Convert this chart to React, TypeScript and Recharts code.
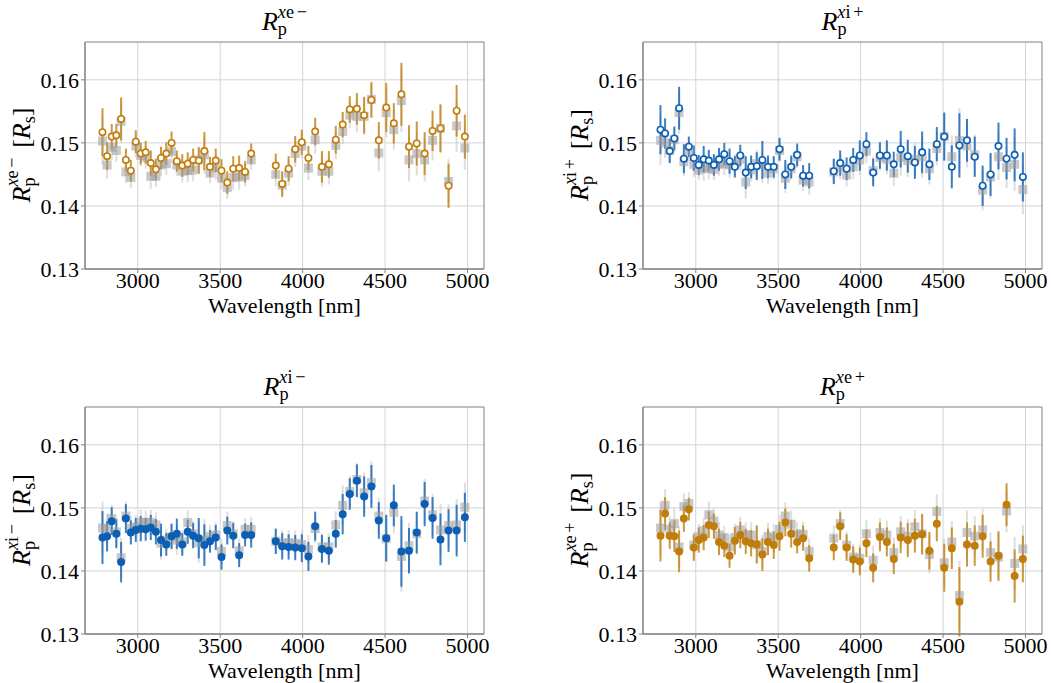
import React from 'react';
import {
  ComposedChart,
  Scatter,
  ErrorBar,
  XAxis,
  YAxis,
  CartesianGrid,
  ReferenceArea,
} from 'recharts';

const FONT = 'Liberation Serif';
const ORANGE = '#c17d0a';
const BLUE = '#0b5fb5';

// wavelength bins [nm], shared by all four panels
const wavelengths = [
  2786, 2814, 2842, 2870, 2899, 2928, 2958, 2988, 3018, 3048, 3079, 3110, 3141, 3173, 3205,
  3237, 3270, 3303, 3336, 3370, 3404, 3438, 3473, 3508, 3543, 3579, 3615, 3651, 3688,
  3837, 3876, 3915, 3955, 3995, 4035, 4076, 4117, 4159, 4201, 4243, 4286, 4329, 4373, 4417,
  4462, 4507, 4553, 4599, 4645, 4692, 4740, 4788, 4836, 4885, 4934, 4984,
];

const xTicks = [3000, 3500, 4000, 4500, 5000];
const yTicks = [0.13, 0.14, 0.15, 0.16];

// R_p^{xe-}
const xeMinusVals = [
  0.1517, 0.1479, 0.151, 0.1512, 0.1538, 0.1473, 0.1456, 0.1502, 0.1483, 0.1485, 0.1468, 0.1458, 0.1476, 0.1483, 0.15,
  0.1471, 0.1464, 0.1467, 0.1473, 0.1472, 0.1487, 0.1462, 0.1472, 0.1456, 0.1437, 0.1459, 0.146, 0.1454, 0.1483,
  0.1464, 0.1435, 0.1459, 0.149, 0.1501, 0.1476, 0.1518, 0.1462, 0.1466, 0.1505, 0.1529, 0.1553, 0.1554, 0.1544, 0.1568,
  0.1504, 0.1556, 0.1531, 0.1577, 0.1494, 0.1499, 0.1483, 0.1519, 0.1523, 0.1432, 0.1551, 0.151,
];
const xeMinusErrs = [
  0.0038, 0.0022, 0.002, 0.0018, 0.0034, 0.0018, 0.0017, 0.0018, 0.0017, 0.0018, 0.002, 0.0017, 0.0018, 0.0018, 0.0018,
  0.0017, 0.0018, 0.0018, 0.0018, 0.0021, 0.003, 0.0016, 0.0019, 0.0018, 0.0018, 0.002, 0.002, 0.0017, 0.0016,
  0.0019, 0.002, 0.002, 0.0021, 0.002, 0.0019, 0.0022, 0.0025, 0.0021, 0.0022, 0.002, 0.0021, 0.0025, 0.0029, 0.0028,
  0.0029, 0.0039, 0.0032, 0.005, 0.0034, 0.0035, 0.0034, 0.0032, 0.0038, 0.0035, 0.0041, 0.0035,
];
const xeMinusModel = [
  0.1503, 0.1465, 0.1493, 0.1488, 0.1534, 0.1454, 0.1445, 0.1495, 0.148, 0.1477, 0.1447, 0.1447, 0.1465, 0.1467, 0.1486,
  0.1465, 0.1455, 0.1456, 0.1457, 0.1473, 0.1481, 0.1452, 0.1461, 0.1444, 0.1429, 0.1445, 0.1446, 0.1448, 0.1473,
  0.145, 0.1433, 0.1452, 0.1483, 0.1495, 0.146, 0.1505, 0.1455, 0.1455, 0.1496, 0.1518, 0.1544, 0.1542, 0.1542, 0.1569,
  0.1484, 0.1548, 0.1521, 0.1567, 0.1473, 0.1483, 0.1473, 0.1504, 0.1523, 0.1439, 0.1527, 0.1492,
];

// R_p^{xi+}
const xiPlusVals = [
  0.1521, 0.1515, 0.1487, 0.1507, 0.1555, 0.1475, 0.1494, 0.1476, 0.1465, 0.1474, 0.1472, 0.1465, 0.1474, 0.1482, 0.1471,
  0.1462, 0.148, 0.1453, 0.1462, 0.1463, 0.1473, 0.1462, 0.1462, 0.149, 0.145, 0.1462, 0.1481, 0.1448, 0.1448,
  0.1455, 0.1468, 0.1459, 0.1473, 0.148, 0.1498, 0.1453, 0.148, 0.148, 0.1466, 0.149, 0.1479, 0.1469, 0.1485, 0.1466,
  0.1498, 0.151, 0.1462, 0.1496, 0.1504, 0.1478, 0.1432, 0.145, 0.1495, 0.1475, 0.1481, 0.1446,
];
const xiPlusErrs = [
  0.0039, 0.0024, 0.0019, 0.0019, 0.0034, 0.0023, 0.0016, 0.002, 0.0016, 0.0021, 0.0017, 0.0017, 0.0018, 0.0018, 0.002,
  0.0017, 0.0017, 0.0026, 0.0018, 0.0022, 0.003, 0.0018, 0.0017, 0.0018, 0.0023, 0.0018, 0.0018, 0.0017, 0.002,
  0.002, 0.002, 0.0018, 0.0019, 0.0024, 0.0019, 0.0022, 0.0021, 0.0024, 0.002, 0.0029, 0.0026, 0.0026, 0.0033, 0.0025,
  0.0027, 0.0038, 0.0034, 0.0051, 0.0034, 0.0032, 0.0032, 0.0034, 0.0037, 0.0033, 0.0042, 0.0039,
];
const xiPlusModel = [
  0.1504, 0.15, 0.1488, 0.1505, 0.1548, 0.147, 0.1488, 0.1466, 0.1457, 0.1461, 0.1459, 0.1458, 0.1466, 0.1467, 0.1465,
  0.1465, 0.1474, 0.1438, 0.1457, 0.1467, 0.1466, 0.1452, 0.1459, 0.1488, 0.1444, 0.1459, 0.1478, 0.1441, 0.1438,
  0.1454, 0.1462, 0.1449, 0.1462, 0.1473, 0.1487, 0.1456, 0.1477, 0.1474, 0.1452, 0.1477, 0.1472, 0.1474, 0.1478, 0.1459,
  0.1491, 0.151, 0.1478, 0.1504, 0.1495, 0.1481, 0.1425, 0.1446, 0.1478, 0.1461, 0.1466, 0.1426,
];

// R_p^{xi-}
const xiMinusVals = [
  0.1453, 0.1455, 0.1479, 0.1459, 0.1414, 0.1483, 0.1461, 0.1465, 0.1467, 0.1466, 0.1469, 0.1462, 0.1449, 0.1442, 0.1455,
  0.1459, 0.1442, 0.1462, 0.1456, 0.1452, 0.1441, 0.1447, 0.1453, 0.1422, 0.1464, 0.1456, 0.1425, 0.1457, 0.1457,
  0.1447, 0.1439, 0.1438, 0.1437, 0.1436, 0.1423, 0.1471, 0.1435, 0.1432, 0.1459, 0.149, 0.1522, 0.1543, 0.1518, 0.1534,
  0.148, 0.1452, 0.1504, 0.1431, 0.1432, 0.1461, 0.1506, 0.1484, 0.145, 0.1464, 0.1464, 0.1485,
];
const xiMinusErrs = [
  0.0042, 0.0024, 0.0022, 0.0023, 0.0032, 0.0023, 0.0019, 0.0019, 0.002, 0.0018, 0.002, 0.002, 0.0026, 0.0018, 0.002,
  0.0024, 0.0018, 0.0019, 0.002, 0.0032, 0.0033, 0.0018, 0.002, 0.002, 0.0022, 0.002, 0.0019, 0.0018, 0.002,
  0.002, 0.0021, 0.002, 0.002, 0.0022, 0.0023, 0.0023, 0.0022, 0.0022, 0.0022, 0.0032, 0.0025, 0.0026, 0.0032, 0.0034,
  0.0029, 0.0037, 0.0033, 0.0056, 0.0036, 0.0033, 0.0035, 0.0033, 0.0041, 0.0034, 0.0041, 0.0039,
];
const xiMinusModel = [
  0.1468, 0.1467, 0.1483, 0.1462, 0.1421, 0.1487, 0.1468, 0.147, 0.1477, 0.1477, 0.1477, 0.1473, 0.1444, 0.1449, 0.1454,
  0.1449, 0.1446, 0.1477, 0.1459, 0.1445, 0.1449, 0.1455, 0.1457, 0.1431, 0.1472, 0.1459, 0.1432, 0.1466, 0.1466,
  0.1447, 0.1444, 0.1445, 0.1444, 0.1442, 0.1434, 0.1467, 0.1438, 0.1438, 0.1473, 0.1504, 0.1526, 0.1545, 0.1524, 0.154,
  0.1487, 0.1451, 0.1493, 0.1423, 0.144, 0.1459, 0.1511, 0.1489, 0.1465, 0.1472, 0.1473, 0.1501,
];

// R_p^{xe+}
const xePlusVals = [
  0.1456, 0.1491, 0.1456, 0.1455, 0.1431, 0.1483, 0.1498, 0.1437, 0.1449, 0.1453, 0.1473, 0.1471, 0.1446, 0.144, 0.1424,
  0.1448, 0.1457, 0.1447, 0.1444, 0.1442, 0.1426, 0.1446, 0.1441, 0.1455, 0.1477, 0.1459, 0.1446, 0.1452, 0.142,
  0.1437, 0.1471, 0.1437, 0.1418, 0.1415, 0.1444, 0.1405, 0.1454, 0.1446, 0.1419, 0.1453, 0.1449, 0.1456, 0.1458, 0.1432,
  0.1475, 0.1405, 0.1436, 0.1351, 0.1442, 0.144, 0.1455, 0.1415, 0.1424, 0.1505, 0.1392, 0.1419,
];
const xePlusErrs = [
  0.0041, 0.0026, 0.0021, 0.0025, 0.0033, 0.0021, 0.0018, 0.0021, 0.002, 0.002, 0.0021, 0.002, 0.0021, 0.0018, 0.0019,
  0.0022, 0.0021, 0.002, 0.0021, 0.003, 0.0026, 0.0021, 0.0022, 0.0023, 0.0022, 0.0022, 0.0018, 0.002, 0.0021,
  0.002, 0.0022, 0.0021, 0.0021, 0.0022, 0.0022, 0.0023, 0.0023, 0.0023, 0.0024, 0.0025, 0.0027, 0.0027, 0.0032, 0.003,
  0.0028, 0.0038, 0.0033, 0.0055, 0.0035, 0.0032, 0.0034, 0.0032, 0.0039, 0.0034, 0.0042, 0.0037,
];
const xePlusModel = [
  0.1468, 0.1504, 0.1466, 0.1475, 0.1438, 0.1502, 0.1507, 0.1441, 0.1454, 0.1464, 0.1489, 0.1479, 0.1457, 0.1453, 0.1438,
  0.1453, 0.1465, 0.1457, 0.1457, 0.1442, 0.1431, 0.1455, 0.1452, 0.1466, 0.1487, 0.1474, 0.1459, 0.1458, 0.1431,
  0.1452, 0.1475, 0.1441, 0.1422, 0.142, 0.1459, 0.1417, 0.1461, 0.1457, 0.1429, 0.1462, 0.1455, 0.147, 0.1459, 0.1426,
  0.1494, 0.1413, 0.1446, 0.1361, 0.1461, 0.1455, 0.1465, 0.1429, 0.1422, 0.1495, 0.1412, 0.1435,
];

const buildRows = (vals: number[], errs: number[], model: number[]) =>
  wavelengths.map((wl, i) => ({ wl, val: vals[i], err: errs[i], model: model[i] }));

// R_p^{x..} rendered like matplotlib mathtext; optional " [R_s]" tail
const MathText = ({ sup, size, withUnit }: { sup: [string, string]; size: number; withUnit?: boolean }) => {
  const s = size * 0.7;
  const down = size * 0.2;
  const up = size * 0.46;
  return (
    <>
      <tspan fontStyle="italic">R</tspan>
      <tspan fontSize={s} dy={down}>p</tspan>
      <tspan fontSize={s} fontStyle="italic" dx={-s * 0.5} dy={-down - up}>x</tspan>
      <tspan fontSize={s}>{sup[0]}</tspan>
      <tspan fontSize={s} dx={s * 0.15}>{sup[1]}</tspan>
      {withUnit && (
        <>
          <tspan dy={up} dx={size * 0.12}>{'\u00a0['}</tspan>
          <tspan fontStyle="italic">R</tspan>
          <tspan fontSize={s} dy={down}>s</tspan>
          <tspan dy={-down}>]</tspan>
        </>
      )}
    </>
  );
};

const XTick = (props: any) => {
  const { x, y, payload } = props;
  return (
    <text x={x} y={y} dy={15} textAnchor="middle" fontFamily={FONT} fontSize={22} fill="#000">
      {payload.value}
    </text>
  );
};

const YTick = (props: any) => {
  const { x, y, payload } = props;
  return (
    <text x={x} y={y} dy={7.8} textAnchor="end" fontFamily={FONT} fontSize={22} fill="#000">
      {Number(payload.value).toFixed(2)}
    </text>
  );
};

const CircleShape = (color: string, open: boolean) => (props: any) => {
  const { cx, cy } = props;
  if (cx == null || cy == null) return null;
  return <circle cx={cx} cy={cy} r={3.2} fill={open ? '#fff' : color} stroke={color} strokeWidth={1.6} />;
};

const SquareShape = (props: any) => {
  const { cx, cy } = props;
  if (cx == null || cy == null) return null;
  return <rect x={cx - 4.5} y={cy - 4.5} width={9} height={9} fill="#9c9c9c" fillOpacity={0.55} />;
};

const CHART_W = 500;
const CHART_H = 318;

interface PanelProps {
  left: number;
  top: number;
  sup: [string, string];
  color: string;
  open: boolean;
  vals: number[];
  errs: number[];
  model: number[];
}

function Panel({ left, top, sup, color, open, vals, errs, model }: PanelProps) {
  const rows = buildRows(vals, errs, model);
  const plotCx = 85 + 399 / 2;
  return (
    <div style={{ position: 'absolute', left, top, width: CHART_W, height: CHART_H }}>
      <ComposedChart
        width={CHART_W}
        height={CHART_H}
        data={rows}
        margin={{ top: 42, right: 16, left: 25, bottom: 5 }}
      >
        <CartesianGrid stroke="#d4d4d4" strokeWidth={1} horizontalValues={yTicks} verticalValues={xTicks} />
        <XAxis
          dataKey="wl"
          type="number"
          domain={[2680, 5100]}
          ticks={xTicks}
          allowDataOverflow
          height={44}
          tickSize={4}
          tickMargin={0}
          stroke="#808080"
          tick={<XTick />}
        />
        <YAxis
          type="number"
          domain={[0.13, 0.166]}
          ticks={yTicks}
          allowDataOverflow
          width={60}
          tickSize={4}
          tickMargin={2}
          stroke="#808080"
          tick={<YTick />}
        />
        <ReferenceArea x1={2680} x2={5100} y1={0.13} y2={0.166} fill="none" stroke="#808080" strokeWidth={1} />
        <Scatter dataKey="model" shape={SquareShape} isAnimationActive={false}>
          <ErrorBar dataKey="err" direction="y" width={0} stroke="#c8c8c8" strokeOpacity={0.6} strokeWidth={2} />
        </Scatter>
        <Scatter dataKey="val" shape={CircleShape(color, open)} isAnimationActive={false}>
          <ErrorBar dataKey="err" direction="y" width={0} stroke={color} strokeOpacity={0.8} strokeWidth={2} />
        </Scatter>
      </ComposedChart>
      <svg
        width={CHART_W}
        height={CHART_H}
        style={{ position: 'absolute', left: 0, top: 0, pointerEvents: 'none' }}
      >
        <text x={plotCx} y={30} textAnchor="middle" fontFamily={FONT} fontSize={26} fill="#000">
          <MathText sup={sup} size={26} />
        </text>
        <g transform={`translate(30, 155) rotate(-90)`}>
          <text x={0} y={0} textAnchor="middle" fontFamily={FONT} fontSize={26} fill="#000">
            <MathText sup={sup} size={26} withUnit />
          </text>
        </g>
        <text x={plotCx} y={313} textAnchor="middle" fontFamily={FONT} fontSize={22} fill="#000">
          Wavelength [nm]
        </text>
      </svg>
    </div>
  );
}

export default function App() {
  return (
    <div style={{ position: 'absolute', left: 0, top: 0, width: 1052, height: 683, background: '#fff' }}>
      <Panel left={0} top={0} sup={['e', '−']} color={ORANGE} open vals={xeMinusVals} errs={xeMinusErrs} model={xeMinusModel} />
      <Panel left={558} top={0} sup={['i', '+']} color={BLUE} open vals={xiPlusVals} errs={xiPlusErrs} model={xiPlusModel} />
      <Panel left={0} top={365} sup={['i', '−']} color={BLUE} open={false} vals={xiMinusVals} errs={xiMinusErrs} model={xiMinusModel} />
      <Panel left={558} top={365} sup={['e', '+']} color={ORANGE} open={false} vals={xePlusVals} errs={xePlusErrs} model={xePlusModel} />
    </div>
  );
}
